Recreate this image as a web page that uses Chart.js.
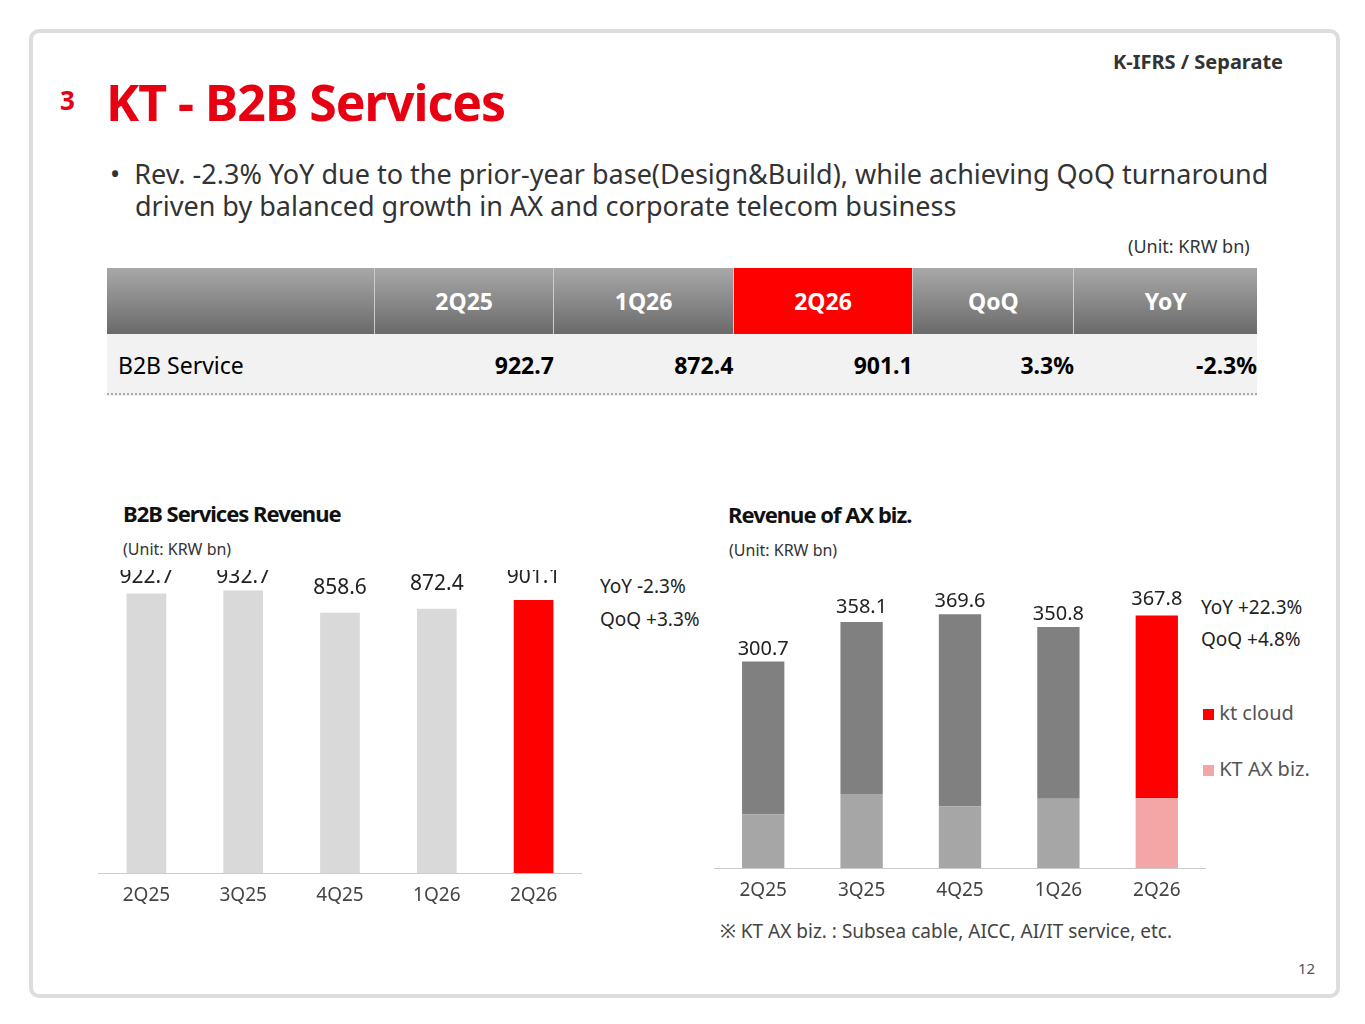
<!DOCTYPE html>
<html><head><meta charset="utf-8">
<script src="https://cdn.jsdelivr.net/npm/chart.js@4/dist/chart.umd.min.js"></script>
<style>
body{margin:0;width:1365px;height:1024px;background:#fff;font-family:"Noto Sans",Inter,sans-serif;position:relative;overflow:hidden}
.frame{position:absolute;left:29px;top:29px;width:1303px;height:961px;border:4px solid #ddd;border-radius:10px}
.abs{position:absolute}
table{border-collapse:collapse;position:absolute;left:107px;top:268px;width:1150px;font-size:23px;font-weight:700}
th{height:64px;color:#fff;background:linear-gradient(#a8a8a8,#6a6a6a);border-right:1px solid #ccc;font-weight:700}
td{height:60px;background:#f2f2f2;text-align:right;padding-right:0}
</style></head><body>
<div class="frame"></div>
<div class="abs" style="left:1113px;top:48px;font-size:20px;font-weight:700;color:#333">K-IFRS / Separate</div>
<div class="abs" style="left:60px;top:82px;font-size:26px;font-weight:700;color:#e60012">3</div>
<div class="abs" style="left:106px;top:68px;font-size:50px;font-weight:700;color:#e60012;letter-spacing:-1px">KT - B2B Services</div>
<div class="abs" style="left:110px;top:158px;font-size:27px;color:#333;line-height:32px;width:1200px">•&nbsp; Rev. -2.3% YoY due to the prior-year base(Design&amp;Build), while achieving QoQ turnaround<br><span style="padding-left:25px">driven by balanced growth in AX and corporate telecom business</span></div>
<div class="abs" style="left:1128px;top:234px;font-size:18px;color:#333">(Unit: KRW bn)</div>
<table>
<tr><th style="width:265px"></th><th>2Q25</th><th>1Q26</th><th style="background:#ff0000">2Q26</th><th>QoQ</th><th style="border-right:none">YoY</th></tr>
<tr><td style="text-align:left;padding-left:11px;font-weight:400">B2B Service</td><td>922.7</td><td>872.4</td><td>901.1</td><td>3.3%</td><td>-2.3%</td></tr>
</table>
<div class="abs" style="left:107px;top:393px;width:1150px;border-top:2px dotted #aaa"></div>

<div class="abs" style="left:123px;top:498px;font-size:22px;font-weight:700;color:#111;letter-spacing:-1px">B2B Services Revenue</div>
<div class="abs" style="left:123px;top:538px;font-size:16px;color:#333">(Unit: KRW bn)</div>
<div class="abs" style="left:600px;top:570px;font-size:19px;color:#222;line-height:33px">YoY -2.3%<br>QoQ +3.3%</div>

<div class="abs" style="left:728px;top:499px;font-size:22px;font-weight:700;color:#111;letter-spacing:-1px">Revenue of AX biz.</div>
<div class="abs" style="left:729px;top:539px;font-size:16px;color:#333">(Unit: KRW bn)</div>
<div class="abs" style="left:1201px;top:591px;font-size:19px;color:#222;line-height:32px">YoY +22.3%<br>QoQ +4.8%</div>
<div class="abs" style="left:1203px;top:699px;font-size:20px;color:#555"><span style="display:inline-block;width:11px;height:11px;background:#ff0000"></span> kt cloud</div>
<div class="abs" style="left:1203px;top:755px;font-size:20px;color:#555"><span style="display:inline-block;width:11px;height:11px;background:#f4a6a6"></span> KT AX biz.</div>
<div class="abs" style="left:720px;top:918px;font-size:19px;color:#444">※ KT AX biz. : Subsea cable, AICC, AI/IT service, etc.</div>
<div class="abs" style="left:1298px;top:958px;font-size:15px;color:#555">12</div>

<div class="abs" style="left:98px;top:570px;width:484px;height:340px"><canvas id="c1"></canvas></div>
<div class="abs" style="left:714px;top:585px;width:492px;height:320px"><canvas id="c2"></canvas></div>
<script>
const quarters=["2Q25","3Q25","4Q25","1Q26","2Q26"];
const b2bRevenue=[922.7,932.7,858.6,872.4,901.1];
const axTotal=[300.7,358.1,369.6,350.8,367.8];
const axLower=[78,108,90,101,102];
const axUpper=axTotal.map((t,i)=>+(t-axLower[i]).toFixed(1));
const labelPlugin={id:'lbl',afterDatasetsDraw(ch,a,o){const c=ch.ctx;const vals=o.vals;const meta=ch.getDatasetMeta(ch.data.datasets.length-1);
c.save();c.font=o.font;c.fillStyle='#222';c.textAlign='center';c.textBaseline='bottom';
meta.data.forEach((b,i)=>c.fillText(vals[i].toFixed(1),b.x,b.y-o.off[i]));c.restore();}};
Chart.defaults.font.family='"Noto Sans",Inter,sans-serif';
new Chart(document.getElementById('c1'),{type:'bar',plugins:[labelPlugin],
data:{labels:quarters,datasets:[{data:b2bRevenue,backgroundColor:["#d9d9d9","#d9d9d9","#d9d9d9","#d9d9d9","#ff0000"],barPercentage:0.41,categoryPercentage:1}]},
options:{responsive:true,maintainAspectRatio:false,animation:false,plugins:{legend:{display:false},tooltip:{enabled:false},
lbl:{vals:b2bRevenue,font:'21px "Noto Sans"',off:[6,3,14,14,12]}},
scales:{y:{display:false,min:0,max:1000},x:{grid:{display:false},border:{color:'#ccc'},ticks:{color:'#444',font:{size:19}}}}}});
new Chart(document.getElementById('c2'),{type:'bar',plugins:[labelPlugin],
data:{labels:quarters,datasets:[{data:axLower,backgroundColor:["#a6a6a6","#a6a6a6","#a6a6a6","#a6a6a6","#f4a6a6"],barPercentage:0.43,categoryPercentage:1},
{data:axUpper,backgroundColor:["#808080","#808080","#808080","#808080","#ff0000"],barPercentage:0.43,categoryPercentage:1}]},
options:{responsive:true,maintainAspectRatio:false,animation:false,plugins:{legend:{display:false},tooltip:{enabled:false},
lbl:{vals:axTotal,font:'20px "Noto Sans"',off:[2,5,3,3,6]}},
scales:{y:{display:false,stacked:true,min:0,max:412},x:{stacked:true,grid:{display:false},border:{color:'#ccc'},ticks:{color:'#444',font:{size:19}}}}}});
</script>
</body></html>
